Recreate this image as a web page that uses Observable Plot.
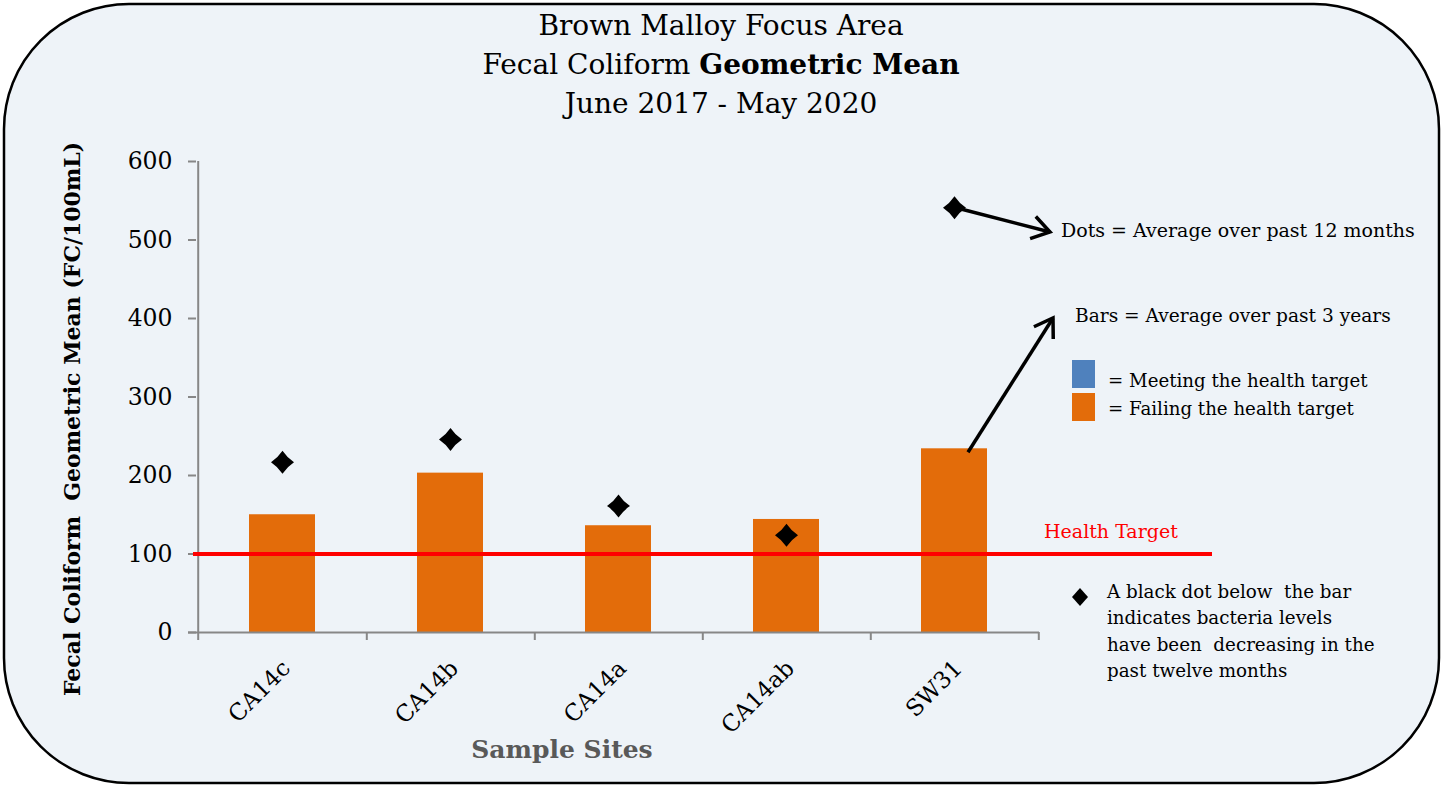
<!DOCTYPE html>
<html><head><meta charset="utf-8">
<script src="https://cdn.jsdelivr.net/npm/d3@7"></script>
<script src="https://cdn.jsdelivr.net/npm/@observablehq/plot@0.6"></script>
<style>html,body{margin:0;padding:0;background:#fff;overflow:hidden}#chart svg{display:block}</style>
</head><body><div id="chart"></div>
<script>
// ---- data ----
const sites = ["CA14c", "CA14b", "CA14a", "CA14ab", "SW31"];
const bars3yr = [150, 203, 136, 144, 234];     // bars: average over past 3 years
const dots12mo = [217, 246, 161, 124, 541];    // dots: average over past 12 months
const yTicks = [0, 100, 200, 300, 400, 500, 600];
const healthTarget = 100;
const titleLine1 = "Brown Malloy Focus Area";
const titleLine2a = "Fecal Coliform ";
const titleLine2b = "Geometric Mean";
const titleLine3 = "June 2017 - May 2020";
const yLabel = "Fecal Coliform  Geometric Mean (FC/100mL)";
const xLabel = "Sample Sites";
const noteDots = "Dots = Average over past 12 months";
const noteBars = "Bars = Average over past 3 years";
const legendMeet = "= Meeting the health target";
const legendFail = "= Failing the health target";
const targetLabel = "Health Target";
const noteLines = ["A black dot below  the bar", "indicates bacteria levels", "have been  decreasing in the", "past twelve months"];

const data = sites.map((s, i) => ({site: s, bar: bars3yr[i], dot: dots12mo[i]}));

// ---- layout ----
const W = 1443, H = 787, mL = 196, mR = 404, mT = 161, mB = 155;
const step = (W - mL - mR) / sites.length;
const frameH = H - mT - mB;
const gray = "#878787";
const orange = "#E36C0A", blue = "#4F81BD";
const FONT = "DejaVu Serif";

const concaveDiamond = {
  draw(ctx, size) {
    const h = Math.sqrt(size / Math.PI);
    const c = h * 0.4;
    ctx.moveTo(0, -h);
    ctx.quadraticCurveTo(c, -c, h, 0);
    ctx.quadraticCurveTo(c, c, 0, h);
    ctx.quadraticCurveTo(-c, c, -h, 0);
    ctx.quadraticCurveTo(-c, -c, 0, -h);
    ctx.closePath();
  }
};

const plot = Plot.plot({
  width: W, height: H,
  marginLeft: mL, marginRight: mR, marginTop: mT, marginBottom: mB,
  style: {fontFamily: FONT, fontSize: "20px", background: "transparent", color: "#000"},
  x: {domain: sites, padding: 0, axis: null},
  y: {domain: [0, 600], axis: null},
  marks: [
    Plot.barY(data, {x: "site", y: "bar", fill: orange, insetLeft: 51, insetRight: 51}),
    // axes lines
    Plot.ruleX([sites[0]], {dx: -step / 2, stroke: gray, strokeWidth: 2, insetBottom: -8}),
    Plot.ruleY([0], {stroke: gray, strokeWidth: 2, insetLeft: -8}),
    Plot.ruleX(sites, {dx: step / 2, stroke: gray, strokeWidth: 2, insetTop: frameH, insetBottom: -8}),
    Plot.axisY(yTicks, {tickSize: 8, tickPadding: 16, stroke: gray, strokeWidth: 2, fill: "#000", fontSize: 23.5}),
    Plot.text(sites, {x: d => d, text: d => d, frameAnchor: "bottom", rotate: -45, textAnchor: "end",
      lineAnchor: "middle", dx: 4, dy: 32, fontSize: 23, fill: "#000"}),
    // health target
    Plot.ruleY([healthTarget], {stroke: "#FF0000", strokeWidth: 4, insetRight: -173, insetLeft: -3}),
    // dots
    Plot.dot(data, {x: "site", y: "dot", symbol: concaveDiamond, r: 11.5, fill: "#000", stroke: "none"})
  ]
});

const svg = d3.select(plot);
// rounded background panel
svg.insert("rect", ":first-child")
  .attr("x", 4).attr("y", 4).attr("width", W - 8).attr("height", H - 8)
  .attr("rx", 125).attr("ry", 125)
  .attr("fill", "#EEF3F8").attr("stroke", "#000").attr("stroke-width", 2.5);

const g = svg.append("g").attr("font-family", FONT).attr("fill", "#000");
// title
const t = g.append("g").attr("font-size", 28).attr("text-anchor", "middle");
t.append("text").attr("x", 721).attr("y", 35).text(titleLine1);
const t2 = t.append("text").attr("x", 721).attr("y", 74);
t2.append("tspan").text(titleLine2a);
t2.append("tspan").attr("font-weight", "bold").text(titleLine2b);
t.append("text").attr("x", 721).attr("y", 113).text(titleLine3);

// axis titles
g.append("text").attr("transform", "translate(72,419) rotate(-90)")
  .attr("text-anchor", "middle").attr("dy", "0.35em")
  .attr("font-size", 22).attr("font-weight", "bold").text(yLabel);
g.append("text").attr("x", 562).attr("y", 758).attr("text-anchor", "middle")
  .attr("font-size", 25).attr("font-weight", "bold").attr("fill", "#595959").text(xLabel);

// annotations
const ann = g.append("g").attr("font-size", 19).attr("text-anchor", "start");
ann.append("text").attr("x", 1061).attr("y", 237).text(noteDots);
ann.append("text").attr("x", 1075).attr("y", 322).attr("font-size", 18.6).text(noteBars);
ann.append("rect").attr("x", 1072).attr("y", 360).attr("width", 23).attr("height", 28).attr("fill", blue);
ann.append("rect").attr("x", 1072).attr("y", 393).attr("width", 23).attr("height", 28).attr("fill", orange);
ann.append("text").attr("x", 1108).attr("y", 387).attr("font-size", 18.2).text(legendMeet);
ann.append("text").attr("x", 1108).attr("y", 415).attr("font-size", 18.2).text(legendFail);
ann.append("text").attr("x", 1044).attr("y", 538).attr("fill", "#FF0000").text(targetLabel);
ann.append("path").attr("d", "M1080,588L1088,597L1080,606L1072,597Z").attr("fill", "#000");
noteLines.forEach((l, i) => ann.append("text").attr("x", 1107).attr("y", 598 + i * 26.3).attr("font-size", 18.3).text(l));

// arrows
const xs = plot.scale("x"), ys = plot.scale("y");
const cx = s => xs.apply(s) + xs.bandwidth / 2;
function arrow(x1, y1, x2, y2, head = 21, ang = 33) {
  const a = Math.atan2(y2 - y1, x2 - x1), r = ang * Math.PI / 180;
  g.append("line").attr("x1", x1).attr("y1", y1).attr("x2", x2).attr("y2", y2)
    .attr("stroke", "#000").attr("stroke-width", 3.5);
  g.append("path").attr("d",
    `M${x2 - head * Math.cos(a - r)},${y2 - head * Math.sin(a - r)}L${x2},${y2}L${x2 - head * Math.cos(a + r)},${y2 - head * Math.sin(a + r)}`)
    .attr("fill", "none").attr("stroke", "#000").attr("stroke-width", 3.5).attr("stroke-linejoin", "miter");
}
const last = sites.length - 1;
arrow(cx(sites[last]) + 4, ys.apply(dots12mo[last]) + 1, 1050, 232);
arrow(cx(sites[last]) + 14, ys.apply(bars3yr[last]) + 4, 1053, 318);

document.getElementById("chart").appendChild(plot);
</script>
</body></html>
